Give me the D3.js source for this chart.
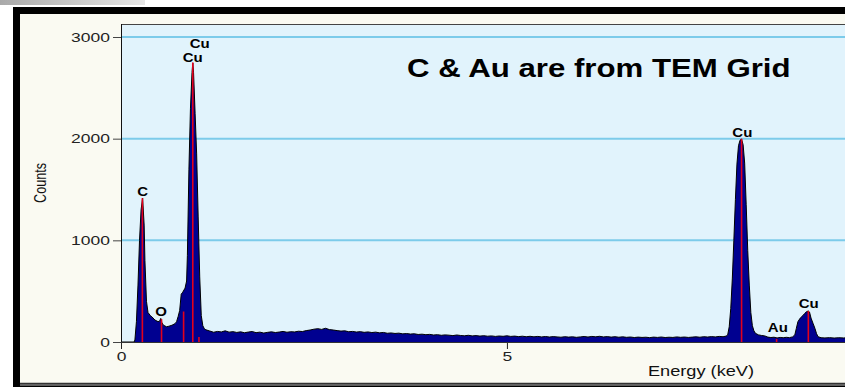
<!DOCTYPE html>
<html>
<head>
<meta charset="utf-8">
<script src="https://cdn.jsdelivr.net/npm/d3@7/dist/d3.min.js"></script>
<style>
  html, body { margin: 0; padding: 0; background: #fff; }
  svg { display: block; font-family: "Liberation Sans", Arial, sans-serif; }
</style>
</head>
<body>
<svg id="chart" width="845" height="387"></svg>
<script>
// EDS spectrum, [energy keV, counts]
const spectrum = [
  [0.00, 0], [0.17, 0], [0.18, 20], [0.20, 200], [0.22, 560], [0.24, 1000], [0.26, 1300],
  [0.28, 1415], [0.30, 1150], [0.31, 800], [0.33, 400], [0.35, 290], [0.38, 260], [0.40, 248],
  [0.44, 216], [0.48, 200], [0.50, 205], [0.515, 232], [0.53, 190], [0.55, 165], [0.59, 150],
  [0.62, 155], [0.66, 165], [0.70, 180], [0.72, 200], [0.74, 250], [0.76, 310], [0.78, 470],
  [0.80, 490], [0.83, 530], [0.85, 600], [0.86, 850], [0.88, 1700], [0.90, 2300], [0.92, 2650],
  [0.93, 2745], [0.94, 2650], [0.96, 2250], [0.98, 1850], [1.00, 1230], [1.02, 640], [1.04, 260],
  [1.06, 160], [1.08, 130], [1.10, 120],
  [1.15, 108], [1.20, 96], [1.25, 104], [1.30, 99], [1.35, 110], [1.40, 97], [1.45, 102],
  [1.50, 94], [1.55, 100], [1.60, 91], [1.65, 98], [1.70, 103], [1.75, 92], [1.80, 97],
  [1.85, 88], [1.90, 95], [1.95, 100], [2.00, 93], [2.05, 98], [2.10, 104], [2.15, 96],
  [2.20, 101], [2.25, 99], [2.30, 106], [2.35, 103], [2.40, 112], [2.45, 118], [2.50, 126],
  [2.55, 131], [2.60, 124], [2.65, 135], [2.70, 122], [2.75, 118], [2.80, 112], [2.85, 107],
  [2.90, 110], [2.95, 101], [3.00, 104], [3.05, 98], [3.10, 102], [3.15, 95], [3.20, 99],
  [3.25, 93], [3.30, 97], [3.35, 90], [3.40, 94], [3.45, 86], [3.50, 89], [3.55, 84],
  [3.60, 87], [3.65, 80], [3.70, 83], [3.75, 78], [3.80, 81], [3.85, 74], [3.90, 77],
  [3.95, 72], [4.00, 75], [4.05, 69], [4.10, 72], [4.15, 66], [4.20, 70], [4.25, 67],
  [4.30, 63], [4.35, 69], [4.40, 64], [4.45, 61], [4.50, 66], [4.55, 60], [4.60, 63],
  [4.65, 58], [4.70, 62], [4.75, 57], [4.80, 60], [4.85, 55], [4.90, 59], [4.95, 56],
  [5.00, 61], [5.05, 55], [5.10, 58], [5.15, 53], [5.20, 57], [5.25, 52], [5.30, 56],
  [5.35, 51], [5.40, 55], [5.45, 50], [5.50, 54], [5.55, 49], [5.60, 53], [5.65, 50],
  [5.70, 47], [5.75, 52], [5.80, 48], [5.85, 51], [5.90, 46], [5.95, 50], [6.00, 54],
  [6.05, 49], [6.10, 55], [6.15, 51], [6.20, 56], [6.25, 50], [6.30, 53], [6.35, 48],
  [6.40, 52], [6.45, 47], [6.50, 51], [6.55, 46], [6.60, 49], [6.65, 44], [6.70, 48],
  [6.75, 45], [6.80, 47], [6.85, 43], [6.90, 48], [6.95, 45], [7.00, 49], [7.05, 44],
  [7.10, 47], [7.15, 45], [7.20, 50], [7.25, 46], [7.30, 49], [7.35, 45], [7.40, 48],
  [7.45, 51], [7.50, 47], [7.55, 52], [7.60, 49], [7.65, 53], [7.70, 50], [7.75, 55],
  [7.80, 52], [7.84, 58],
  [7.86, 70], [7.88, 150], [7.90, 330], [7.92, 620], [7.94, 1000], [7.96, 1400], [7.98, 1750],
  [8.00, 1930], [8.02, 1985], [8.04, 1995], [8.06, 1940], [8.08, 1760], [8.10, 1350], [8.12, 900],
  [8.14, 560], [8.16, 290], [8.18, 160], [8.20, 110], [8.22, 85], [8.26, 70], [8.30, 64],
  [8.34, 60], [8.38, 48], [8.42, 44], [8.46, 47], [8.50, 40], [8.54, 45], [8.58, 42],
  [8.62, 46], [8.66, 43], [8.70, 50], [8.73, 70], [8.75, 135], [8.77, 200], [8.80, 235],
  [8.82, 250], [8.84, 265], [8.86, 282], [8.88, 298], [8.905, 305], [8.92, 295], [8.94, 235],
  [8.965, 185], [8.99, 135], [9.01, 85], [9.03, 52], [9.07, 42], [9.12, 40], [9.18, 43],
  [9.24, 39], [9.30, 42], [9.36, 40], [9.40, 41]
];

// element marker lines: [energy keV, counts at top]
const markerLines = [
  [0.277, 1415], [0.525, 225], [0.811, 300], [0.930, 2750], [1.010, 50],
  [8.040, 2000], [8.494, 30], [8.905, 305]
];

// peak labels: [text, energy keV, counts level of baseline]
const peakLabels = [
  ["C", 0.28, 1436], ["O", 0.52, 256], ["Cu", 0.93, 2753], ["Cu", 1.02, 2891],
  ["Cu", 8.05, 2016], ["Au", 8.51, 98], ["Cu", 8.91, 334]
];

const yTicks = [0, 1000, 2000, 3000];
const gridTicks = [1000, 2000, 3000];
const xTicks = [0, 5];
const title = "C & Au are from TEM Grid";

const svg = d3.select("#chart");
const W = 845, H = 387;
const plot = { left: 121, right: 845, top: 24, bottom: 342 };

const x = d3.scaleLinear().domain([0, 9.38]).range([plot.left, plot.right]);
const y = d3.scaleLinear().domain([0, 3000]).range([plot.bottom, 37]);

// frame
const defs = svg.append("defs");
const grad = defs.append("linearGradient").attr("id", "strip");
grad.append("stop").attr("offset", "0%").attr("stop-color", "#a9a9a9");
grad.append("stop").attr("offset", "100%").attr("stop-color", "#e6e6e6");
defs.append("clipPath").attr("id", "plotClip").append("rect")
  .attr("x", plot.left).attr("y", plot.top)
  .attr("width", plot.right - plot.left).attr("height", plot.bottom - plot.top);

svg.append("rect").attr("width", W).attr("height", H).attr("fill", "#fff");
svg.append("rect").attr("x", 0).attr("y", 0).attr("width", 145).attr("height", 5).attr("fill", "url(#strip)");
svg.append("rect").attr("x", 13).attr("y", 7).attr("width", W - 13).attr("height", H - 7).attr("fill", "#000");
svg.append("rect").attr("x", 20).attr("y", 14).attr("width", W - 20).attr("height", 369).attr("fill", "#fafaf2");
svg.append("line").attr("x1", 20).attr("x2", W).attr("y1", 383.5).attr("y2", 383.5).attr("stroke", "#333").attr("stroke-width", 1.5);
svg.append("rect").attr("x", 20).attr("y", 384.5).attr("width", W - 20).attr("height", 1).attr("fill", "#bbb");

// plot area
svg.append("rect").attr("x", plot.left).attr("y", plot.top)
  .attr("width", plot.right - plot.left).attr("height", plot.bottom - plot.top)
  .attr("fill", "#e1f3fc");
svg.append("line").attr("x1", plot.left).attr("x2", plot.right).attr("y1", plot.top + 0.5).attr("y2", plot.top + 0.5)
  .attr("stroke", "#444");

svg.append("g").selectAll("line").data(gridTicks).join("line")
  .attr("x1", plot.left).attr("x2", plot.right)
  .attr("y1", d => y(d)).attr("y2", d => y(d))
  .attr("stroke", "#7ccbea").attr("stroke-width", 2);

// spectrum
const g = svg.append("g").attr("clip-path", "url(#plotClip)");
g.append("path").datum(spectrum)
  .attr("fill", "#000090")
  .attr("d", d3.area().x(d => x(d[0])).y0(y(0)).y1(d => y(d[1])));
g.append("path").datum(spectrum)
  .attr("fill", "none").attr("stroke", "#000").attr("stroke-width", 1)
  .attr("d", d3.line().x(d => x(d[0])).y(d => y(d[1])));
g.selectAll("line.marker").data(markerLines).join("line")
  .attr("class", "marker")
  .attr("x1", d => x(d[0])).attr("x2", d => x(d[0]))
  .attr("y1", y(0)).attr("y2", d => y(d[1]))
  .attr("stroke", "#e3001b").attr("stroke-width", 1.6);

// axes - the source font is drawn wide, so stretch the labels sideways
const stretch = (sel, k) => sel.each(function () {
  const t = d3.select(this);
  const tx = +t.attr("x") || 0, ty = +t.attr("y") || 0;
  t.attr("x", 0).attr("y", 0).attr("transform", `translate(${tx},${ty}) scale(${k},1)`);
});

const yAxis = svg.append("g").attr("transform", `translate(${plot.left},0)`)
  .call(d3.axisLeft(y).tickValues(yTicks).tickFormat(d3.format("d"))
    .tickSize(8).tickPadding(3).tickSizeOuter(0));
yAxis.select(".domain").remove();
yAxis.selectAll("line").attr("stroke", "#444");
yAxis.selectAll("text").attr("font-size", 12.5).attr("fill", "#222").attr("font-family", null).call(stretch, 1.4);

const xAxis = svg.append("g").attr("transform", `translate(0,${plot.bottom})`)
  .call(d3.axisBottom(x).tickValues(xTicks).tickFormat(d3.format("d"))
    .tickSize(7).tickPadding(3).tickSizeOuter(0));
xAxis.select(".domain").remove();
xAxis.selectAll("line").attr("stroke", "#222");
xAxis.selectAll("text").attr("font-size", 12.5).attr("fill", "#222").attr("font-family", null).call(stretch, 1.4);

svg.append("line").attr("x1", plot.left + 0.5).attr("x2", plot.left + 0.5)
  .attr("y1", plot.top).attr("y2", plot.bottom).attr("stroke", "#111");
svg.append("line").attr("x1", plot.left).attr("x2", plot.right)
  .attr("y1", plot.bottom + 0.5).attr("y2", plot.bottom + 0.5).attr("stroke", "#333");

// axis titles
svg.append("text").text("Counts")
  .attr("font-size", 12.6).attr("fill", "#111").attr("text-anchor", "middle")
  .attr("transform", "translate(46,183) scale(1.3,1) rotate(-90)");
svg.append("text").text("Energy (keV)")
  .attr("font-size", 14).attr("fill", "#111").attr("text-anchor", "middle")
  .attr("transform", "translate(701,375.5) scale(1.3,1)");

// peak labels
svg.append("g").selectAll("text").data(peakLabels).join("text")
  .text(d => d[0])
  .attr("font-size", 12).attr("font-weight", "bold").attr("fill", "#000").attr("text-anchor", "middle")
  .attr("transform", d => `translate(${x(d[1])},${y(d[2])}) scale(1.25,1)`);

// title
svg.append("text").text(title)
  .attr("font-size", 26).attr("font-weight", "bold").attr("fill", "#000")
  .attr("transform", "translate(407,77) scale(1.2,1)");
</script>
</body>
</html>
